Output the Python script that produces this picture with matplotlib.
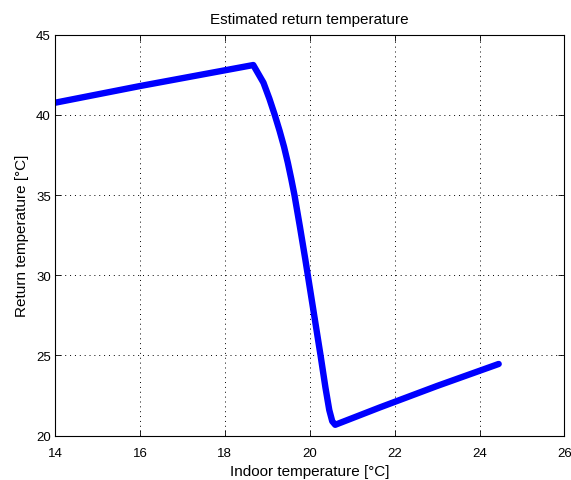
import matplotlib
matplotlib.use("Agg")
import matplotlib.pyplot as plt

# Data
indoor_temp = [14.0, 16.0, 18.67, 18.91, 19.05, 19.175, 19.29, 19.395, 19.485,
               19.565, 19.64, 19.77, 19.895, 20.015, 20.135, 20.255, 20.37,
               20.46, 20.53, 20.60, 21.65, 23.0, 24.45]
return_temp = [40.75, 41.79, 43.1, 42.0, 41.0, 40.0, 39.0, 38.0, 37.0,
               36.0, 35.0, 33.0, 31.0, 29.0, 27.0, 25.0, 23.0,
               21.6, 20.9, 20.68, 21.76, 23.1, 24.47]

xticks = [14, 16, 18, 20, 22, 24, 26]
yticks = [20, 25, 30, 35, 40, 45]

plt.rcParams['font.family'] = ['Liberation Sans', 'DejaVu Sans']

fig = plt.figure(figsize=(5.71, 4.81), dpi=100)
ax = fig.add_axes([0.0963, 0.0921, 0.8923, 0.8340])

ax.plot(indoor_temp, return_temp, color='#0000ff', lw=4.6,
        solid_joinstyle='round', solid_capstyle='round')

ax.set_xlim(14, 26)
ax.set_ylim(20, 45)
ax.set_xticks(xticks)
ax.set_yticks(yticks)
ax.tick_params(direction='in', length=4, width=0.6, top=True, right=True,
               labelsize=9.5)
ax.tick_params(axis='x', pad=8)
ax.tick_params(axis='y', pad=3)
ax.grid(True, color='black', linestyle=(0, (1, 4)), lw=0.7)
for s in ax.spines.values():
    s.set_linewidth(0.8)
    s.set_color('black')

ax.set_title('Estimated return temperature', fontsize=11, pad=8.5)
ax.set_xlabel('Indoor temperature [°C]', fontsize=11, labelpad=3.5)
ax.set_ylabel('Return temperature [°C]', fontsize=11, labelpad=5)

fig.savefig('out.png', dpi=100)
